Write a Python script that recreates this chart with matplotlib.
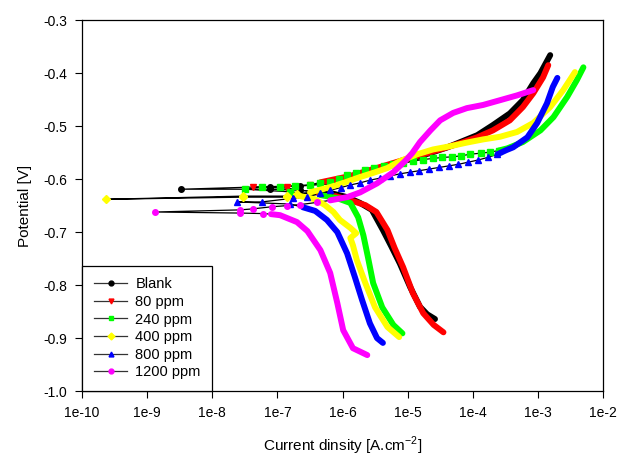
import numpy as np
import matplotlib
matplotlib.use("Agg")
import matplotlib.pyplot as plt
from matplotlib.lines import Line2D
from matplotlib.ticker import NullLocator

plt.rcParams['font.family'] = ['Liberation Sans', 'DejaVu Sans']
plt.rcParams['axes.unicode_minus'] = False

# log10 of current density [A/cm2] and potential [V]
# each curve: cathodic branch / sparse points round Ecorr / anodic branch
blank_cath_i = [-4.58, -4.70, -4.81, -4.96, -5.12, -5.25, -5.38, -5.55, -5.73, -5.93, -6.19]
blank_cath_e = [-0.864, -0.855, -0.841, -0.804, -0.759, -0.727, -0.696, -0.658, -0.645, -0.634, -0.626]
blank_mid_i = [-6.65, -7.11, -8.48, -7.11, -6.65]
blank_mid_e = [-0.621, -0.619, -0.619, -0.614, -0.613]
blank_anod_i = [-6.19, -5.88, -5.42, -5.12, -4.85, -4.61, -4.39, -4.19, -3.93, -3.69, -3.43, -3.23, -3.07, -2.96, -2.81]
blank_anod_e = [-0.609, -0.597, -0.582, -0.568, -0.558, -0.549, -0.540, -0.530, -0.517, -0.498, -0.476, -0.451, -0.419, -0.400, -0.366]

p80_cath_i = [-4.45, -4.60, -4.76, -4.92, -5.07, -5.20, -5.31, -5.48, -5.65, -5.88, -6.11]
p80_cath_e = [-0.889, -0.875, -0.853, -0.815, -0.766, -0.730, -0.696, -0.662, -0.649, -0.640, -0.632]
p80_mid_i = [-6.40, -6.85, -7.37, -6.85, -6.50]
p80_mid_e = [-0.625, -0.617, -0.615, -0.614, -0.611]
p80_anod_i = [-6.34, -5.88, -5.42, -4.96, -4.70, -4.45, -4.19, -3.93, -3.69, -3.43, -3.23, -3.07, -2.92, -2.84]
p80_anod_e = [-0.606, -0.594, -0.577, -0.560, -0.551, -0.542, -0.532, -0.521, -0.508, -0.489, -0.464, -0.438, -0.408, -0.385]

p240_cath_i = [-5.08, -5.22, -5.39, -5.53, -5.61, -5.68, -5.76, -5.88, -6.08, -6.34]
p240_cath_e = [-0.891, -0.875, -0.842, -0.796, -0.747, -0.706, -0.672, -0.645, -0.636, -0.630]
p240_mid_i = [-6.80, -7.50, -7.24, -6.96, -6.73, -6.50, -6.34, -6.19, -6.06, -5.93, -5.80, -5.66, -5.52,
              -5.37, -5.22, -5.07, -4.92, -4.77, -4.61, -4.47, -4.32, -4.18, -4.04, -3.88, -3.73, -3.60]
p240_mid_e = [-0.624, -0.619, -0.615, -0.614, -0.613, -0.611, -0.608, -0.606, -0.599, -0.592, -0.588, -0.583, -0.579,
              -0.575, -0.572, -0.569, -0.566, -0.563, -0.561, -0.559, -0.558, -0.556, -0.553, -0.551, -0.549, -0.546]
p240_anod_i = [-3.60, -3.47, -3.23, -2.96, -2.76, -2.55, -2.40, -2.30]
p240_anod_e = [-0.546, -0.542, -0.530, -0.508, -0.483, -0.445, -0.413, -0.389]

p400_cath_i = [-5.13, -5.31, -5.50, -5.65, -5.78, -5.84, -5.88, -5.79, -5.88, -6.04, -6.14, -6.27, -6.42, -6.65]
p400_cath_e = [-0.898, -0.879, -0.842, -0.796, -0.753, -0.725, -0.711, -0.702, -0.692, -0.677, -0.662, -0.649, -0.638, -0.632]
p400_mid_i = [-6.85, -7.53, -9.63, -7.53, -6.85, -6.70]
p400_mid_e = [-0.634, -0.634, -0.638, -0.632, -0.632, -0.628]
p400_anod_i = [-6.50, -6.19, -5.96, -5.73, -5.50, -5.31, -5.12, -4.85, -4.61, -4.35, -4.09, -3.84, -3.58, -3.32,
               -3.07, -2.81, -2.61, -2.43]
p400_anod_e = [-0.625, -0.615, -0.606, -0.596, -0.587, -0.579, -0.566, -0.553, -0.544, -0.538, -0.531, -0.525, -0.520,
               -0.511, -0.494, -0.464, -0.432, -0.398]

p800_cath_i = [-5.38, -5.47, -5.58, -5.70, -5.81, -5.93, -6.08, -6.24, -6.42, -6.61]
p800_cath_e = [-0.909, -0.900, -0.872, -0.828, -0.785, -0.740, -0.700, -0.677, -0.660, -0.653]
p800_mid_i = [-6.80, -7.62, -7.24, -6.76, -6.54, -6.35, -6.19, -6.03, -5.88, -5.73, -5.58, -5.42, -5.27, -5.12,
              -4.97, -4.82, -4.67, -4.52, -4.37, -4.22, -4.07, -3.92, -3.77, -3.62]
p800_mid_e = [-0.647, -0.643, -0.643, -0.636, -0.634, -0.627, -0.621, -0.616, -0.611, -0.607, -0.602, -0.598, -0.594,
              -0.590, -0.587, -0.584, -0.581, -0.578, -0.575, -0.572, -0.568, -0.564, -0.559, -0.553]
p800_anod_i = [-3.62, -3.48, -3.38, -3.16, -3.01, -2.86, -2.77, -2.70]
p800_anod_e = [-0.553, -0.545, -0.540, -0.521, -0.494, -0.457, -0.426, -0.409]

p1200_cath_i = [-5.62, -5.84, -5.99, -6.08, -6.19, -6.34, -6.54, -6.70, -6.96, -7.10]
p1200_cath_e = [-0.932, -0.919, -0.885, -0.834, -0.777, -0.734, -0.698, -0.681, -0.668, -0.666]
p1200_mid_i = [-7.22, -7.57, -8.88, -7.57, -7.37, -7.08, -6.85, -6.65, -6.40]
p1200_mid_e = [-0.665, -0.664, -0.662, -0.658, -0.656, -0.652, -0.650, -0.648, -0.644]
p1200_anod_i = [-6.19, -5.93, -5.73, -5.47, -5.22, -5.04, -4.93, -4.81, -4.65, -4.50, -4.30, -4.09, -3.84, -3.58,
                -3.32, -3.07]
p1200_anod_e = [-0.640, -0.634, -0.625, -0.608, -0.587, -0.566, -0.551, -0.530, -0.508, -0.489, -0.475, -0.466,
                -0.460, -0.451, -0.442, -0.432]

labels = ["Blank", "80 ppm", "240 ppm", "400 ppm", "800 ppm", "1200 ppm"]
colors = ["#000000", "#FF0000", "#00FF00", "#FFFF00", "#0000FF", "#FF00FF"]
markers = ["o", "v", "s", "D", "^", "o"]

curves = [
    (blank_cath_i, blank_cath_e, blank_mid_i, blank_mid_e, blank_anod_i, blank_anod_e),
    (p80_cath_i, p80_cath_e, p80_mid_i, p80_mid_e, p80_anod_i, p80_anod_e),
    (p240_cath_i, p240_cath_e, p240_mid_i, p240_mid_e, p240_anod_i, p240_anod_e),
    (p400_cath_i, p400_cath_e, p400_mid_i, p400_mid_e, p400_anod_i, p400_anod_e),
    (p800_cath_i, p800_cath_e, p800_mid_i, p800_mid_e, p800_anod_i, p800_anod_e),
    (p1200_cath_i, p1200_cath_e, p1200_mid_i, p1200_mid_e, p1200_anod_i, p1200_anod_e),
]

fig = plt.figure(figsize=(6.32, 4.58), dpi=100)
ax = fig.add_axes([0.130, 0.146, 0.824, 0.810])

for k, (ci, ce, mi, me, ai, ae) in enumerate(curves):
    col = colors[k]
    mk = markers[k]
    all_i = 10 ** np.array(ci + mi + ai)
    all_e = np.array(ce + me + ae)
    # thin connecting line
    ax.plot(all_i, all_e, color="black", lw=0.9, zorder=2 + k * 0.01)
    # dense branches drawn thick
    for bi, be in ((ci, ce), (ai, ae)):
        ax.plot(10 ** np.array(bi), be, color=col, lw=4.3, solid_capstyle="round",
                solid_joinstyle="round", zorder=3 + k)
    # sparse points near corrosion potential
    ax.plot(10 ** np.array(mi), me, ls="none", marker=mk, ms=4, mec=col, mfc=col, zorder=3 + k)

ax.set_xscale("log")
ax.set_xlim(1e-10, 1e-2)
ax.set_ylim(-1.0, -0.3)
xt = [10.0 ** p for p in range(-10, -1)]
ax.set_xticks(xt)
ax.set_xticklabels(["1e-%d" % p for p in range(10, 1, -1)])
ax.xaxis.set_minor_locator(NullLocator())
yt = np.round(np.arange(-1.0, -0.29, 0.1), 1)
ax.set_yticks(yt)
ax.set_yticklabels(["%.1f" % v for v in yt])
ax.tick_params(direction="out", length=5, width=0.8, labelsize=10, pad=6, colors="black")
ax.tick_params(top=False, right=False)
for s in ax.spines.values():
    s.set_linewidth(0.9)
    s.set_color("black")

ax.set_xlabel("Current dinsity [A.cm$^{\\mathregular{-2}}$]", fontsize=11, labelpad=10)
ax.set_ylabel("Potential [V]", fontsize=11, labelpad=8)

handles = [Line2D([0], [0], color="#333333", lw=0.9, marker=m, ms=3.5, mec=c, mfc=c)
           for m, c in zip(markers, colors)]
leg = ax.legend(handles, labels, loc="lower left", borderaxespad=0, fancybox=False,
                fontsize=10.5, handlelength=2.3, labelspacing=0.25, borderpad=0.8,
                handletextpad=0.55, framealpha=1)
leg.get_frame().set_edgecolor("black")
leg.get_frame().set_linewidth(0.9)
leg.set_zorder(20)

fig.savefig("out.png", dpi=100)
